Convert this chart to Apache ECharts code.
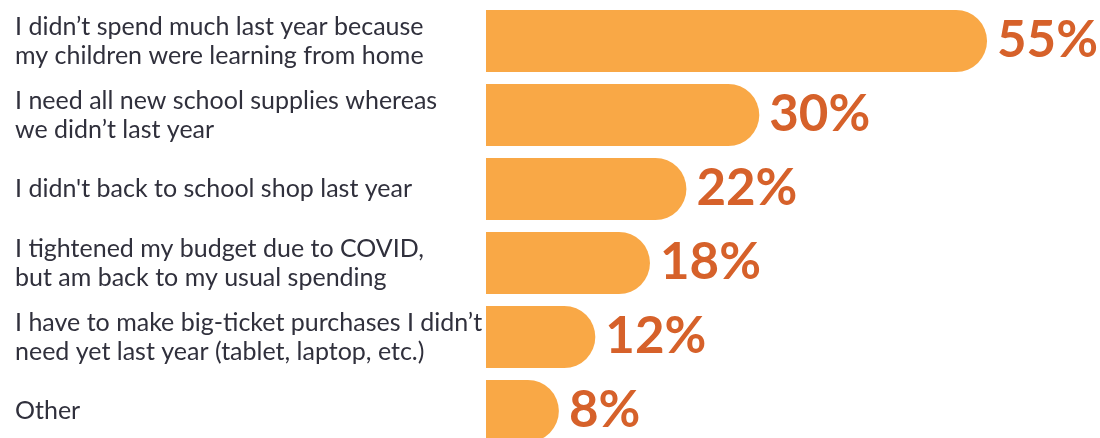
<!DOCTYPE html>
<html>
<head>
<meta charset="utf-8">
<script src="https://cdn.jsdelivr.net/npm/echarts@6/dist/echarts.min.js"></script>
<style>
  html, body { margin: 0; padding: 0; background: #ffffff; overflow: hidden; }
  #chart { width: 1100px; height: 448px; }
</style>
</head>
<body>
<div id="chart"></div>
<script>
// Reasons for spending more on back-to-school this year (share of respondents)
const categories = [
  'I didn\u2019t spend much last year because\nmy children were learning from home',
  'I need all new school supplies whereas\nwe didn\u2019t last year',
  "I didn't back to school shop last year",
  'I tightened my budget due to COVID,\nbut am back to my usual spending',
  'I have to make big-ticket purchases I didn\u2019t\nneed yet last year (tablet, laptop, etc.)',
  'Other'
];
const values = [55, 30, 22, 18, 12, 8];

const chart = echarts.init(document.getElementById('chart'), null, { renderer: 'canvas' });

chart.setOption({
  backgroundColor: '#ffffff',
  animation: false,
  grid: { left: 486, right: 0, top: 4, bottom: 0, containLabel: false },
  xAxis: {
    type: 'value',
    min: 0,
    max: 67.4,
    show: false
  },
  yAxis: {
    type: 'category',
    data: categories,
    inverse: true,
    axisLine: { show: false },
    axisTick: { show: false },
    splitLine: { show: false },
    axisLabel: {
      align: 'left',
      margin: 471,
      color: '#30303c',
      fontFamily: 'Lato',
      fontSize: 25,
      lineHeight: 29
    }
  },
  series: [{
    type: 'bar',
    data: values,
    barWidth: 62,
    itemStyle: {
      color: '#F9A846',
      borderRadius: [0, 31, 31, 0]
    },
    label: {
      show: true,
      position: 'right',
      distance: 10,
      formatter: '{c}%',
      color: '#D6612A',
      fontFamily: 'Lato',
      fontWeight: 'bold',
      fontSize: 51
    }
  }]
});
</script>
</body>
</html>
